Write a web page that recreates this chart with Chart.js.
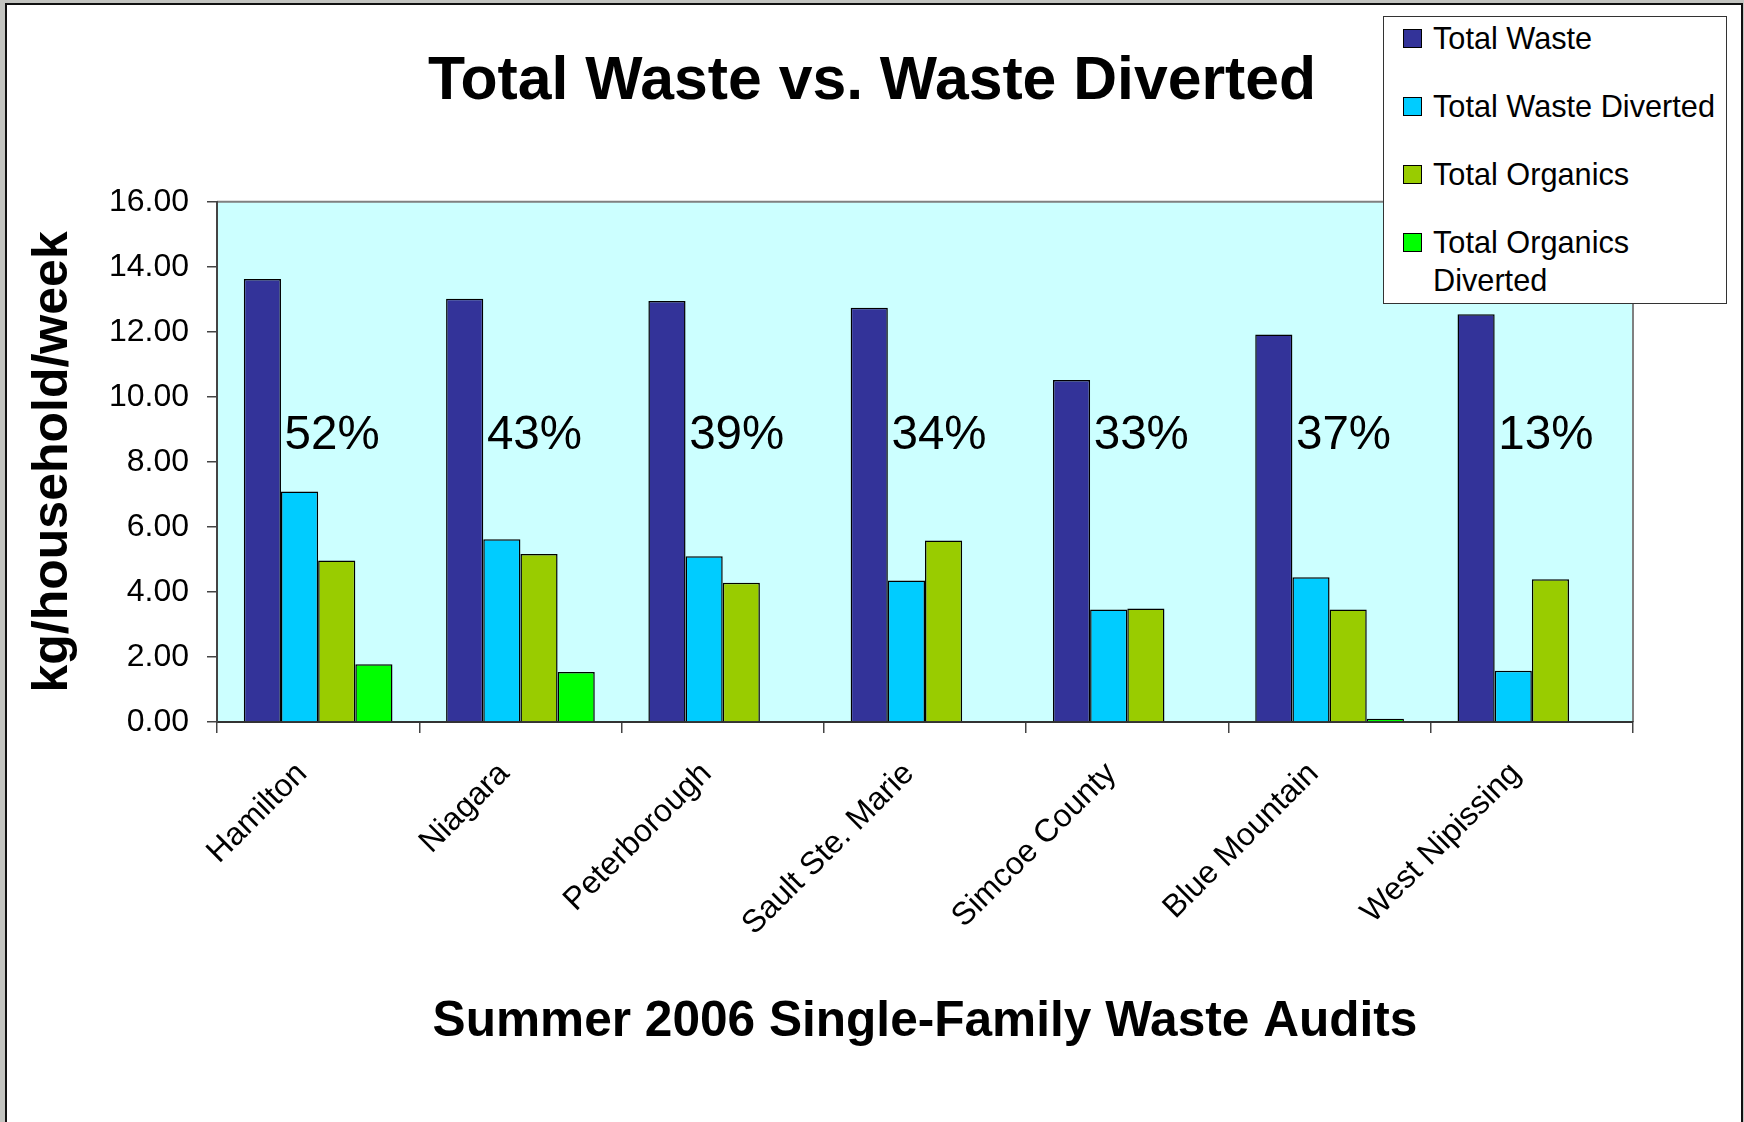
<!DOCTYPE html>
<html lang="en">
<head>
    <meta charset="UTF-8">
    <title>Total Waste vs. Waste Diverted</title>
    <script src="https://cdn.jsdelivr.net/npm/chart.js@4.4.0/dist/chart.umd.min.js"></script>
    <style>
        body { margin: 0; background: #c3c4c0; font-family: "Liberation Sans", Arial, sans-serif; }
        #cadre { position: absolute; left: 5px; top: 3px; width: 1734px; height: 1130px;
                 border-left: 2px solid #111; border-top: 2px solid #111; border-right: 2px solid #111; background: #fff; }
        #zone { position: absolute; left: 0; top: 0; width: 1744px; height: 1122px; }
        #legende { position: absolute; left: 1383px; top: 16px; width: 344px; height: 288px; box-sizing: border-box;
                   border: 1.5px solid #333; background: #fff; padding: 3px 0 0 19px; }
        .item { display: flex; align-items: flex-start; margin-bottom: 30px; }
        .carre { width: 17px; height: 17px; border: 1.5px solid #000; margin-top: 9px; margin-right: 11px; flex: none; }
        .texte { font-size: 30.7px; line-height: 38px; color: #000; width: 285px; }
    </style>
</head>
<body>
<div id="cadre"></div>
<div id="zone">
    <canvas id="graphique" width="1744" height="1122"></canvas>
</div>
<div id="legende"></div>

<script>
    // donnees
    let categories = ['Hamilton', 'Niagara', 'Peterborough', 'Sault Ste. Marie', 'Simcoe County', 'Blue Mountain', 'West Nipissing'];
    let totalWaste = [13.63, 13.02, 12.95, 12.74, 10.52, 11.92, 12.54];
    let totalWasteDiverted = [7.09, 5.62, 5.10, 4.35, 3.46, 4.45, 1.58];
    let totalOrganics = [4.97, 5.17, 4.28, 5.58, 3.49, 3.46, 4.39];
    let totalOrganicsDiverted = [1.78, 1.54, null, null, null, 0.1, null];
    let percentDiverted = ['52%', '43%', '39%', '34%', '33%', '37%', '13%'];
    let yTicks = [0, 2, 4, 6, 8, 10, 12, 14, 16];

    let police = '"Liberation Sans", Arial, sans-serif';

    // fond cyan de la zone de trace + bord gris
    let fondZone = {
        id: 'fondZone',
        beforeDraw(chart) {
            let a = chart.chartArea;
            let ctx = chart.ctx;
            ctx.save();
            ctx.fillStyle = '#ccffff';
            ctx.fillRect(a.left, a.top, a.right - a.left, a.bottom - a.top);
            ctx.strokeStyle = '#808080';
            ctx.lineWidth = 2;
            ctx.beginPath();
            ctx.moveTo(a.left, a.top);
            ctx.lineTo(a.right, a.top);
            ctx.lineTo(a.right, a.bottom);
            ctx.stroke();
            ctx.restore();
        }
    };

    // pourcentages detournes ecrits dans chaque groupe
    let pourcentages = {
        id: 'pourcentages',
        afterDatasetsDraw(chart) {
            let ctx = chart.ctx;
            let x = chart.scales.x;
            let y = chart.scales.y;
            ctx.save();
            ctx.font = '47.5px ' + police;
            ctx.fillStyle = '#000';
            ctx.textAlign = 'center';
            ctx.textBaseline = 'middle';
            percentDiverted.forEach((texte, i) => {
                ctx.fillText(texte, x.getPixelForValue(i) + 14, y.getPixelForValue(8.8));
            });
            ctx.restore();
        }
    };

    let ctx = document.querySelector('#graphique').getContext('2d');
    let monGraphique = new Chart(ctx, {
        type: 'bar',
        data: {
            labels: categories,
            datasets: [
                { label: 'Total Waste', data: totalWaste, backgroundColor: '#333399' },
                { label: 'Total Waste Diverted', data: totalWasteDiverted, backgroundColor: '#00ccff' },
                { label: 'Total Organics', data: totalOrganics, backgroundColor: '#99cc00' },
                { label: 'Total Organics Diverted', data: totalOrganicsDiverted, backgroundColor: '#00ff00' }
            ]
        },
        options: {
            responsive: false,
            animation: false,
            devicePixelRatio: 1,
            layout: { padding: 0 },
            datasets: {
                bar: {
                    borderColor: '#000',
                    borderWidth: 1.5,
                    barPercentage: 1,
                    categoryPercentage: 0.735
                }
            },
            plugins: {
                legend: { display: false },
                tooltip: { enabled: false },
                title: {
                    display: true,
                    text: 'Total Waste vs. Waste Diverted',
                    color: '#000',
                    font: { family: police, size: 60.7, weight: 'bold' },
                    padding: { top: 46, bottom: 83 }
                }
            },
            scales: {
                x: {
                    grid: { offset: true, drawOnChartArea: false, tickLength: 11, color: '#444', lineWidth: 1.5 },
                    border: { color: '#333', width: 2 },
                    ticks: {
                        color: '#000', font: { family: police, size: 32 },
                        minRotation: 45, maxRotation: 45, autoSkip: false, padding: 22, labelOffset: -16
                    },
                    title: {
                        display: true,
                        text: 'Summer 2006 Single-Family Waste Audits',
                        color: '#000',
                        font: { family: police, size: 49.6, weight: 'bold' },
                        padding: { top: 0, bottom: 70 }
                    },
                    afterFit(scale) { scale.height = 400; }
                },
                y: {
                    min: 0,
                    max: 16,
                    afterBuildTicks(scale) { scale.ticks = yTicks.map(v => ({ value: v })); },
                    grid: { drawOnChartArea: false, tickLength: 10, color: '#444', lineWidth: 1.5 },
                    border: { color: '#444', width: 2 },
                    ticks: {
                        color: '#000', font: { family: police, size: 32 }, padding: 18,
                        callback: v => v.toFixed(2)
                    },
                    title: {
                        display: true,
                        text: 'kg/household/week',
                        color: '#000',
                        font: { family: police, size: 50, weight: 'bold' },
                        padding: { top: 23, bottom: 0 }
                    },
                    afterFit(scale) { scale.width = 217; }
                },
                // axe vide qui garde la place a droite du trace
                marge: {
                    position: 'right',
                    display: true,
                    grid: { display: false },
                    border: { display: false },
                    ticks: { display: false },
                    afterFit(scale) { scale.width = 111; }
                }
            }
        },
        plugins: [fondZone, pourcentages]
    });

    // legende en html, construite a partir des series
    let legende = document.querySelector('#legende');
    monGraphique.data.datasets.forEach(serie => {
        let item = document.createElement('div');
        item.className = 'item';
        item.innerHTML = '<div class="carre" style="background:' + serie.backgroundColor + '"></div>' +
            '<div class="texte">' + serie.label + '</div>';
        legende.appendChild(item);
    });
</script>
</body>
</html>
